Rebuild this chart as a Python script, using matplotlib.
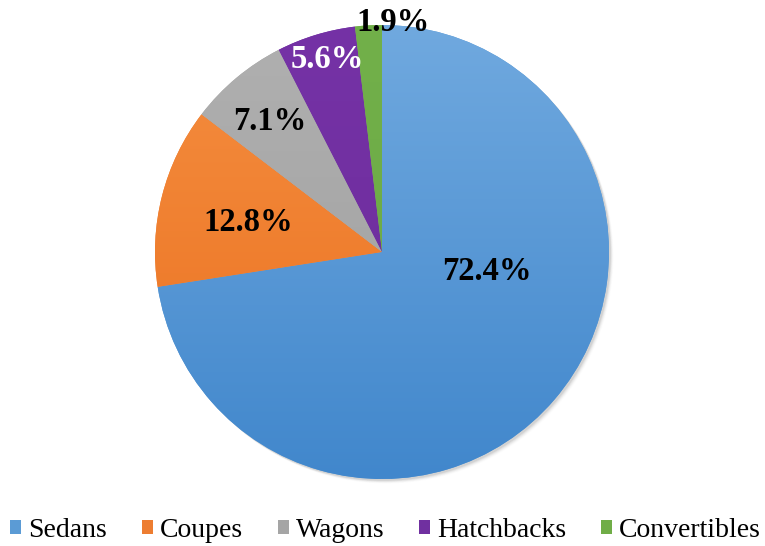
import numpy as np
import matplotlib
matplotlib.use("Agg")
import matplotlib.pyplot as plt
from matplotlib.patches import Patch, Circle
from matplotlib.colors import to_rgb

categories = ["Sedans", "Coupes", "Wagons", "Hatchbacks", "Convertibles"]
shares = [72.4, 12.8, 7.1, 5.6, 1.9]
label_texts = ["72.4%", "12.8%", "7.1%", "5.6%", "1.9%"]

# style
top_colors = ["#70a9df", "#f58e40", "#b0b0b0", "#7532a6", "#72b04a"]
bot_colors = ["#4187cc", "#ea701f", "#9e9e9e", "#6c2c9a", "#6aa844"]
legend_colors = ["#5b9bd5", "#ed7d31", "#a5a5a5", "#7030a0", "#70ad47"]
label_colors = ["black", "black", "black", "white", "black"]
label_pos = [(0.463, -0.088), (-0.590, 0.128), (-0.493, 0.577), (-0.242, 0.846), (0.048, 1.013)]

W, H = 765, 546
fig = plt.figure(figsize=(W / 100, H / 100), dpi=100)
cx, cy, R = 382, 252, 227
ax = fig.add_axes([(cx - R) / W, (H - cy - R) / H, 2 * R / W, 2 * R / H])

wedges, _ = ax.pie(shares, startangle=90, counterclock=False, radius=1.0,
                   colors=legend_colors, wedgeprops=dict(linewidth=0))
ax.set_aspect("equal")
ax.axis("off")

# soft shadow
for i, a in enumerate(np.linspace(0.06, 0.01, 5)):
    ax.add_patch(Circle((0.008 + i * 0.003, -0.008 - i * 0.003), 1.0, color="black",
                        alpha=a, zorder=0, lw=0, clip_on=False))

n = 256
t = np.linspace(0, 1, n)[:, None]
for w, tc, bc in zip(wedges, top_colors, bot_colors):
    tc = np.array(to_rgb(tc)); bc = np.array(to_rgb(bc))
    img = (1 - t)[:, :, None] * tc[None, None, :] + t[:, :, None] * bc[None, None, :]
    img = np.repeat(img, 4, axis=1)
    im = ax.imshow(img, extent=[-1, 1, -1, 1], origin="upper", zorder=2, interpolation="bilinear")
    im.set_clip_path(w)
ax.set_xlim(-1, 1)
ax.set_ylim(-1, 1)

for txt, (x, y), c in zip(label_texts, label_pos, label_colors):
    ax.text(x, y, txt, ha="center", va="center", fontsize=23.5, fontweight="bold",
            family="Liberation Serif", color=c, zorder=5, clip_on=False)

handles = [Patch(facecolor=c, edgecolor="none") for c in legend_colors]
fig.legend(handles, categories, loc="center", bbox_to_anchor=(0.504, 0.029), ncol=5,
           frameon=False, prop=dict(family="Liberation Serif", size=20),
           handlelength=0.4, handleheight=0.4, handletextpad=0.25, columnspacing=1.25,
           borderpad=0, borderaxespad=0)

fig.savefig("out.png", dpi=100, facecolor="white")
